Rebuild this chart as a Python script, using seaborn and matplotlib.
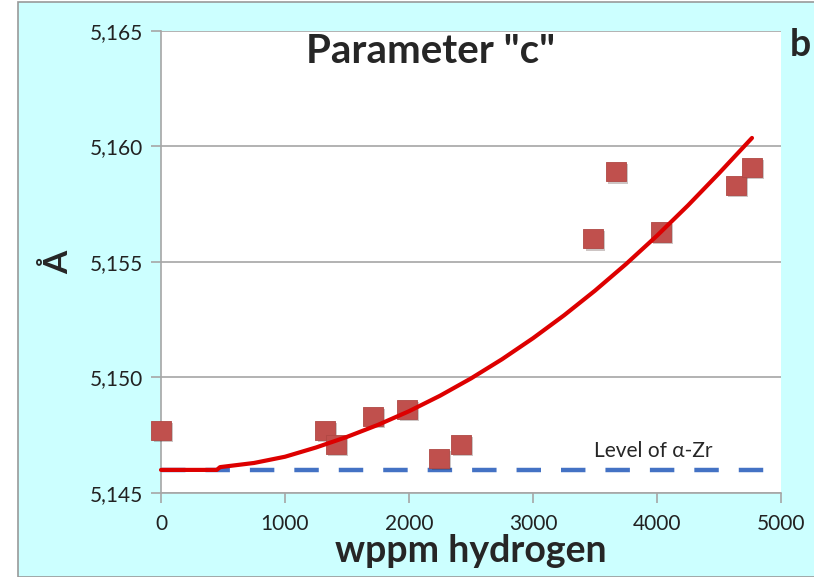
import numpy as np
import pandas as pd
import matplotlib
matplotlib.use("Agg")
import matplotlib.pyplot as plt
import matplotlib.ticker as mticker
import matplotlib.patheffects as pe
from matplotlib.patches import Rectangle
import seaborn as sns

# measured lattice parameter c (Angstrom) vs hydrogen content
hydrogen = [0, 1323, 1411, 1710, 1984, 2242, 2419, 3484, 3669, 4032, 4637, 4766]
param_c = [5.1477, 5.1477, 5.1471, 5.1483, 5.1486, 5.1465, 5.1471,
           5.1560, 5.1589, 5.1563, 5.1583, 5.1591]

# trend line
trend_x = [0, 450, 476, 750, 1000, 1250, 1500, 1750, 2000, 2250, 2500, 2750,
           3000, 3250, 3500, 3750, 4000, 4250, 4500, 4766]
trend_y = [5.14600, 5.14600, 5.14612, 5.14630, 5.14657, 5.14697, 5.14743,
           5.14795, 5.14854, 5.14921, 5.14996, 5.15079, 5.15170, 5.15269,
           5.15376, 5.15491, 5.15614, 5.15745, 5.15884, 5.16037]

alpha_zr = 5.1460
x_ticks = [0, 1000, 2000, 3000, 4000, 5000]
y_ticks = [5.145, 5.150, 5.155, 5.160, 5.165]

sns.set_theme(style="white")
plt.rcParams['font.family'] = ['Lato', 'DejaVu Sans']

bg = "#ccffff"
fig = plt.figure(figsize=(8.14, 5.77), dpi=100)
fig.patch.set_facecolor("white")
fig.patches.append(Rectangle((18 / 814, 0), 1, 1 - 2 / 577, transform=fig.transFigure,
                             facecolor=bg, edgecolor="#999999", linewidth=1.2, zorder=-10))

ax = fig.add_axes([161 / 814, 1 - 493 / 577, 620 / 814, 462 / 577])
ax.set_facecolor("white")

# alpha-Zr reference level
ax.axhline(alpha_zr, color="#4472c4", linewidth=3.2, dashes=(5.5, 4.5), zorder=2)

df = pd.DataFrame({"x": hydrogen, "y": param_c})
sns.scatterplot(data=df, x="x", y="y", ax=ax, marker="s", s=190,
                color="#c0504d", edgecolor="#b04844", linewidth=0.6, zorder=3)
pts = ax.collections[-1]
pts.set_clip_on(False)
pts.set_path_effects([pe.SimplePatchShadow(offset=(1.5, -1.5), alpha=0.25), pe.Normal()])

tr = pd.DataFrame({"x": trend_x, "y": trend_y})
sns.lineplot(data=tr, x="x", y="y", ax=ax, sort=False, estimator=None,
             color="#dd0000", linewidth=3, zorder=4)
ax.lines[-1].set_clip_on(False)

ax.set_xlim(0, 5000)
ax.set_ylim(5.145, 5.165)
ax.set_xticks(x_ticks)
ax.set_yticks(y_ticks)
ax.yaxis.set_major_formatter(mticker.FuncFormatter(lambda v, p: f"{v:.3f}".replace(".", ",")))
ax.yaxis.grid(True, color="#a6a6a6", linewidth=1.2)
ax.set_axisbelow(True)

for s in ["top", "right"]:
    ax.spines[s].set_visible(False)
for s in ["left", "bottom"]:
    ax.spines[s].set_color("#a6a6a6")
    ax.spines[s].set_linewidth(1.2)

ax.tick_params(axis="both", which="both", direction="out", length=7, width=1.2,
               color="#a6a6a6", labelsize=15, labelcolor="#222222")
ax.tick_params(axis="y", pad=6, left=True)
ax.tick_params(axis="x", pad=8, bottom=True)

ax.set_xlabel("wppm hydrogen", fontsize=27, fontweight="bold", labelpad=0)
ax.set_ylabel("Å", fontsize=24, fontweight="bold", labelpad=12)

ax.text(0.435, 0.955, 'Parameter "c"', transform=ax.transAxes, ha="center", va="center",
        fontsize=29, fontweight="bold")
ax.text(3968, 5.1468, "Level of α-Zr", ha="center", va="center", fontsize=15)
fig.text(790 / 814, 1 - 45 / 577, "b", fontsize=27, fontweight="bold", va="center", ha="left")

fig.savefig("out.png", dpi=100, facecolor=fig.get_facecolor())
